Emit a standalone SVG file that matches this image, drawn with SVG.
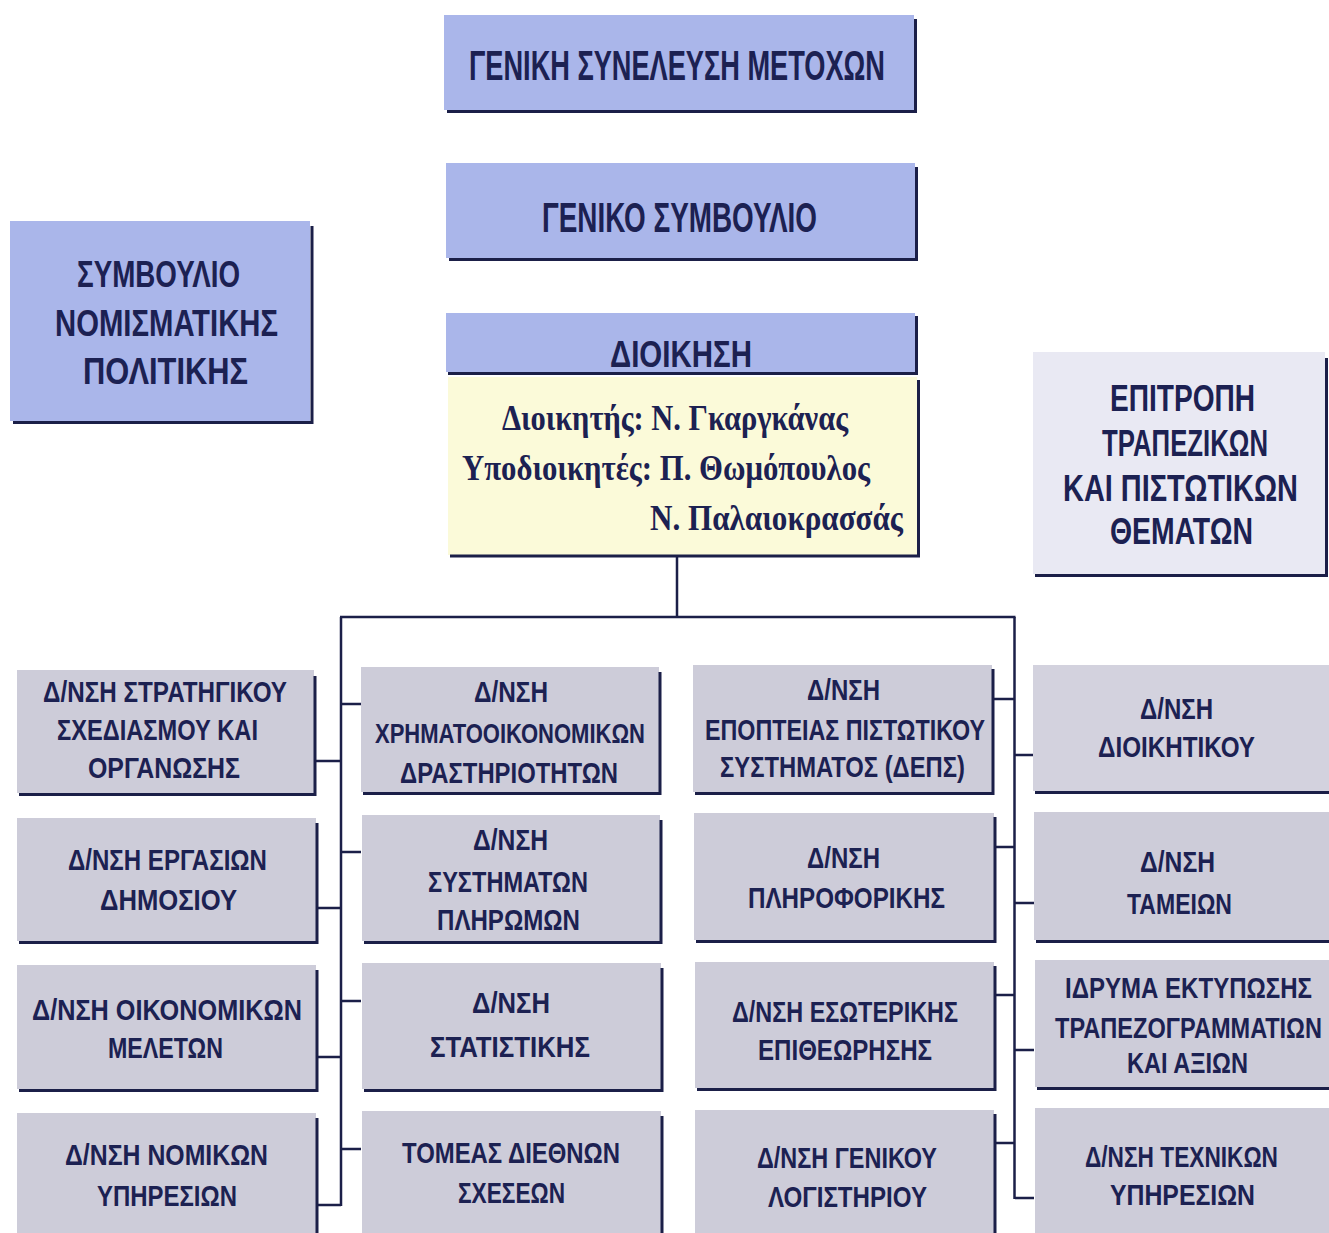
<svg xmlns="http://www.w3.org/2000/svg" width="1329" height="1233" viewBox="0 0 1329 1233">
<style>
.t{font-family:"Liberation Sans","DejaVu Sans",sans-serif;font-weight:bold;fill:#1c2152;text-anchor:middle}
.big{font-size:42px}
.mid{font-size:37px}
.g{font-size:30px}
.s{font-family:"Liberation Serif","DejaVu Serif",serif;font-weight:bold;font-size:35px;fill:#1c2152}
.blue{fill:#aab6ea}
.yel{fill:#fbfad9}
.pale{fill:#e9e9f3}
.grey{fill:#cdccd9}
.sh{stroke:#1b1f48;stroke-width:3;fill:none}
.c{stroke:#1b1f48;stroke-width:2.5;fill:none}
</style>
<rect width="1329" height="1233" fill="#ffffff"/>

<g id="connectors">
<path class="c" d="M677,556 V617 M340,617 H1015.5"/>
<path class="c" d="M341,617 V1206 M341,704 H361 M341,852 H361 M341,1001 H361 M341,1149 H361 M315,761 H341 M315,908 H341 M315,1057 H341 M315,1205 H341"/>
<path class="c" d="M1014.5,617 V1199 M993,699 H1015 M993,847 H1015 M993,995 H1015 M993,1143 H1015 M1015,755 H1034 M1015,903 H1034 M1015,1050 H1034 M1015,1198 H1034"/>
</g>

<g id="n-genikh-syneleysh">
<rect class="blue" x="444" y="15" width="470" height="95"/>
<path class="sh" d="M447,111.5 H916.5 M915.5,19 V113"/>
<text class="t big" x="677" y="80" textLength="416" lengthAdjust="spacingAndGlyphs">ΓΕΝΙΚΗ ΣΥΝΕΛΕΥΣΗ ΜΕΤΟΧΩΝ</text>
</g>

<g id="n-geniko-symvoulio">
<rect class="blue" x="446" y="163" width="469" height="95"/>
<path class="sh" d="M449,259.5 H918 M916.5,167 V261"/>
<text class="t big" x="679.5" y="232" textLength="275" lengthAdjust="spacingAndGlyphs">ΓΕΝΙΚΟ ΣΥΜΒΟΥΛΙΟ</text>
</g>

<g id="n-symvoulio-nomismatikis">
<rect class="blue" x="10" y="221" width="300" height="200"/>
<path class="sh" d="M13,422.5 H313.5 M312,226 V424"/>
<text class="t mid" x="158.5" y="287" textLength="163" lengthAdjust="spacingAndGlyphs">ΣΥΜΒΟΥΛΙΟ</text>
<text class="t mid" x="166.5" y="336" textLength="223" lengthAdjust="spacingAndGlyphs">ΝΟΜΙΣΜΑΤΙΚΗΣ</text>
<text class="t mid" x="165.5" y="384" textLength="165" lengthAdjust="spacingAndGlyphs">ΠΟΛΙΤΙΚΗΣ</text>
</g>

<g id="n-dioikisi">
<rect class="blue" x="446" y="313" width="469" height="59"/>
<path class="sh" d="M448,373.5 H918 M916.5,316 V375"/>
<text class="t mid" x="681" y="367" textLength="142" lengthAdjust="spacingAndGlyphs">ΔΙΟΙΚΗΣΗ</text>
<rect class="yel" x="448" y="377" width="469" height="178"/>
<path class="sh" d="M450,556 H920 M918.5,380 V557.5"/>
<text class="s" x="502" y="430" textLength="346" lengthAdjust="spacingAndGlyphs">Διοικητής: Ν. Γκαργκάνας</text>
<text class="s" x="462" y="480" textLength="408" lengthAdjust="spacingAndGlyphs">Υποδιοικητές: Π. Θωμόπουλος</text>
<text class="s" x="650" y="530" textLength="253" lengthAdjust="spacingAndGlyphs">Ν. Παλαιοκρασσάς</text>
</g>

<g id="n-epitropi">
<rect class="pale" x="1033" y="352" width="292" height="222"/>
<path class="sh" d="M1035,575.5 H1328 M1326.5,358 V576"/>
<text class="t mid" transform="translate(1182.5,411) scale(0.65,1)" textLength="223.1" lengthAdjust="spacingAndGlyphs">ΕΠΙΤΡΟΠΗ</text>
<text class="t mid" transform="translate(1185,456) scale(0.65,1)" textLength="255.4" lengthAdjust="spacingAndGlyphs">ΤΡΑΠΕΖΙΚΩΝ</text>
<text class="t mid" transform="translate(1180.5,501) scale(0.65,1)" textLength="361.5" lengthAdjust="spacingAndGlyphs">ΚΑΙ ΠΙΣΤΩΤΙΚΩΝ</text>
<text class="t mid" transform="translate(1181.5,544) scale(0.65,1)" textLength="220" lengthAdjust="spacingAndGlyphs">ΘΕΜΑΤΩΝ</text>
</g>

<!-- column 1 -->
<g id="n-strat">
<rect class="grey" x="17" y="670" width="297" height="123"/>
<path class="sh" d="M19,794.5 H316.5 M315,676 V796"/>
<text class="t g" x="165" y="702" textLength="244" lengthAdjust="spacingAndGlyphs">Δ/ΝΣΗ ΣΤΡΑΤΗΓΙΚΟΥ</text>
<text class="t g" x="157.5" y="740" textLength="201" lengthAdjust="spacingAndGlyphs">ΣΧΕΔΙΑΣΜΟΥ ΚΑΙ</text>
<text class="t g" x="164" y="778" textLength="152" lengthAdjust="spacingAndGlyphs">ΟΡΓΑΝΩΣΗΣ</text>
</g>
<g id="n-ergasion">
<rect class="grey" x="17" y="818" width="299" height="123"/>
<path class="sh" d="M19,942.5 H318.5 M317,823 V944"/>
<text class="t g" x="167.5" y="870" textLength="199" lengthAdjust="spacingAndGlyphs">Δ/ΝΣΗ ΕΡΓΑΣΙΩΝ</text>
<text class="t g" x="168.5" y="910" textLength="137" lengthAdjust="spacingAndGlyphs">ΔΗΜΟΣΙΟΥ</text>
</g>
<g id="n-oikonomikon">
<rect class="grey" x="17" y="965" width="299" height="124"/>
<path class="sh" d="M19,1090.5 H318.5 M317,970 V1092"/>
<text class="t g" x="167" y="1020" textLength="270" lengthAdjust="spacingAndGlyphs">Δ/ΝΣΗ ΟΙΚΟΝΟΜΙΚΩΝ</text>
<text class="t g" x="165.5" y="1058" textLength="115" lengthAdjust="spacingAndGlyphs">ΜΕΛΕΤΩΝ</text>
</g>
<g id="n-nomikon">
<rect class="grey" x="17" y="1113" width="299" height="130"/>
<path class="sh" d="M317,1118 V1240"/>
<text class="t g" x="166.5" y="1165" textLength="203" lengthAdjust="spacingAndGlyphs">Δ/ΝΣΗ ΝΟΜΙΚΩΝ</text>
<text class="t g" x="167" y="1206" textLength="140" lengthAdjust="spacingAndGlyphs">ΥΠΗΡΕΣΙΩΝ</text>
</g>

<!-- column 2 -->
<g id="n-xrimatooik">
<rect class="grey" x="361" y="667" width="298" height="125"/>
<path class="sh" d="M363,793.5 H661.5 M660,672 V795"/>
<text class="t g" x="511" y="702" textLength="74" lengthAdjust="spacingAndGlyphs">Δ/ΝΣΗ</text>
<text class="t g" x="510" y="743" textLength="270" lengthAdjust="spacingAndGlyphs" style="font-size:27px">ΧΡΗΜΑΤΟΟΙΚΟΝΟΜΙΚΩΝ</text>
<text class="t g" x="509" y="783" textLength="218" lengthAdjust="spacingAndGlyphs">ΔΡΑΣΤΗΡΙΟΤΗΤΩΝ</text>
</g>
<g id="n-pliromon">
<rect class="grey" x="362" y="815" width="298" height="126"/>
<path class="sh" d="M364,942.5 H662.5 M661,820 V944"/>
<text class="t g" x="510.5" y="850" textLength="75" lengthAdjust="spacingAndGlyphs">Δ/ΝΣΗ</text>
<text class="t g" x="508" y="892" textLength="160" lengthAdjust="spacingAndGlyphs">ΣΥΣΤΗΜΑΤΩΝ</text>
<text class="t g" x="508.5" y="930" textLength="143" lengthAdjust="spacingAndGlyphs">ΠΛΗΡΩΜΩΝ</text>
</g>
<g id="n-statistikis">
<rect class="grey" x="362" y="963" width="299" height="126"/>
<path class="sh" d="M364,1090.5 H663.5 M662,968 V1092"/>
<text class="t g" x="511" y="1013" textLength="78" lengthAdjust="spacingAndGlyphs">Δ/ΝΣΗ</text>
<text class="t g" x="510" y="1057" textLength="160" lengthAdjust="spacingAndGlyphs">ΣΤΑΤΙΣΤΙΚΗΣ</text>
</g>
<g id="n-diethnon">
<rect class="grey" x="362" y="1111" width="299" height="130"/>
<path class="sh" d="M662,1116 V1240"/>
<text class="t g" x="511" y="1163" textLength="218" lengthAdjust="spacingAndGlyphs">ΤΟΜΕΑΣ ΔΙΕΘΝΩΝ</text>
<text class="t g" x="511.5" y="1203" textLength="107" lengthAdjust="spacingAndGlyphs">ΣΧΕΣΕΩΝ</text>
</g>

<!-- column 3 -->
<g id="n-deps">
<rect class="grey" x="693" y="665" width="299" height="127"/>
<path class="sh" d="M695,793.5 H994.5 M993,669 V795"/>
<text class="t g" x="843.5" y="700" textLength="73" lengthAdjust="spacingAndGlyphs">Δ/ΝΣΗ</text>
<text class="t g" x="845" y="740" textLength="280" lengthAdjust="spacingAndGlyphs">ΕΠΟΠΤΕΙΑΣ ΠΙΣΤΩΤΙΚΟΥ</text>
<text class="t g" x="842.5" y="777" textLength="245" lengthAdjust="spacingAndGlyphs">ΣΥΣΤΗΜΑΤΟΣ (ΔΕΠΣ)</text>
</g>
<g id="n-pliroforikis">
<rect class="grey" x="694" y="813" width="300" height="127"/>
<path class="sh" d="M696,941.5 H996.5 M995,817 V943"/>
<text class="t g" x="843.5" y="868" textLength="73" lengthAdjust="spacingAndGlyphs">Δ/ΝΣΗ</text>
<text class="t g" x="846.5" y="908" textLength="197" lengthAdjust="spacingAndGlyphs">ΠΛΗΡΟΦΟΡΙΚΗΣ</text>
</g>
<g id="n-esoterikis">
<rect class="grey" x="695" y="962" width="299" height="126"/>
<path class="sh" d="M697,1089.5 H996.5 M995,966 V1091"/>
<text class="t g" x="845" y="1022" textLength="226" lengthAdjust="spacingAndGlyphs">Δ/ΝΣΗ ΕΣΩΤΕΡΙΚΗΣ</text>
<text class="t g" x="845" y="1060" textLength="174" lengthAdjust="spacingAndGlyphs">ΕΠΙΘΕΩΡΗΣΗΣ</text>
</g>
<g id="n-logistiriou">
<rect class="grey" x="695" y="1110" width="299" height="130"/>
<path class="sh" d="M995,1114 V1240"/>
<text class="t g" x="847" y="1168" textLength="180" lengthAdjust="spacingAndGlyphs">Δ/ΝΣΗ ΓΕΝΙΚΟΥ</text>
<text class="t g" x="847.5" y="1207" textLength="159" lengthAdjust="spacingAndGlyphs">ΛΟΓΙΣΤΗΡΙΟΥ</text>
</g>

<!-- column 4 -->
<g id="n-dioikitikou">
<rect class="grey" x="1033" y="665" width="296" height="126" style="fill:#d3d2de"/>
<path class="sh" d="M1035,792.5 H1329"/>
<text class="t g" transform="translate(1176.5,719) scale(0.65,1)" textLength="112.3" lengthAdjust="spacingAndGlyphs">Δ/ΝΣΗ</text>
<text class="t g" transform="translate(1176.5,757) scale(0.65,1)" textLength="241.5" lengthAdjust="spacingAndGlyphs">ΔΙΟΙΚΗΤΙΚΟΥ</text>
</g>
<g id="n-tameion">
<rect class="grey" x="1034" y="812" width="295" height="128"/>
<path class="sh" d="M1036,941.5 H1329"/>
<text class="t g" transform="translate(1177.5,872) scale(0.65,1)" textLength="115.4" lengthAdjust="spacingAndGlyphs">Δ/ΝΣΗ</text>
<text class="t g" transform="translate(1179.5,914) scale(0.65,1)" textLength="161.5" lengthAdjust="spacingAndGlyphs">ΤΑΜΕΙΩΝ</text>
</g>
<g id="n-idryma">
<rect class="grey" x="1035" y="960" width="294" height="127"/>
<path class="sh" d="M1037,1088.5 H1329"/>
<text class="t g" transform="translate(1188.5,998) scale(0.65,1)" textLength="380" lengthAdjust="spacingAndGlyphs">ΙΔΡΥΜΑ ΕΚΤΥΠΩΣΗΣ</text>
<text class="t g" transform="translate(1188.5,1038) scale(0.65,1)" textLength="410.8" lengthAdjust="spacingAndGlyphs">ΤΡΑΠΕΖΟΓΡΑΜΜΑΤΙΩΝ</text>
<text class="t g" transform="translate(1187.5,1073) scale(0.65,1)" textLength="186.2" lengthAdjust="spacingAndGlyphs">ΚΑΙ ΑΞΙΩΝ</text>
</g>
<g id="n-technikon">
<rect class="grey" x="1035" y="1108" width="294" height="130"/>
<text class="t g" transform="translate(1181.5,1167) scale(0.65,1)" textLength="296.9" lengthAdjust="spacingAndGlyphs">Δ/ΝΣΗ ΤΕΧΝΙΚΩΝ</text>
<text class="t g" transform="translate(1182.5,1205) scale(0.65,1)" textLength="223.1" lengthAdjust="spacingAndGlyphs">ΥΠΗΡΕΣΙΩΝ</text>
</g>
</svg>
